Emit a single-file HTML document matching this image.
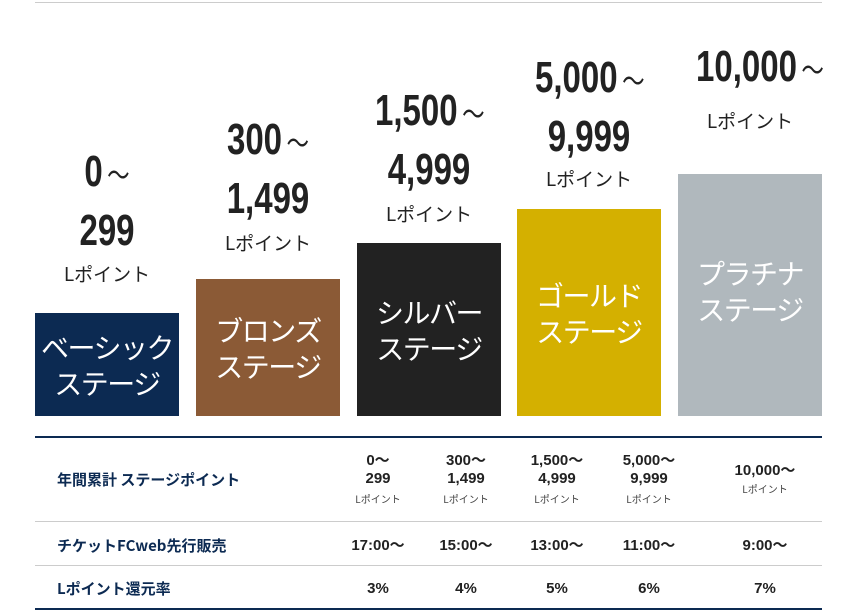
<!DOCTYPE html>
<html><head><meta charset="utf-8"><style>
body{margin:0;width:850px;height:611px;background:#fff;position:relative;overflow:hidden;font-family:"Liberation Sans","Noto Sans CJK JP",sans-serif}
.bar{position:absolute;width:144px;bottom:195px;color:#fff;font-size:28px;line-height:36px;text-align:center;font-family:"Noto Sans CJK JP",sans-serif;letter-spacing:-1.5px;white-space:nowrap;display:flex;align-items:center;justify-content:center}
.num{position:absolute;width:144px;text-align:center;font-family:"Liberation Sans Narrow","Liberation Sans",sans-serif;font-weight:bold;font-size:44px;line-height:54px;color:#222;transform:scaleX(0.75);transform-origin:center;white-space:nowrap}
.num span{font-weight:normal;font-size:30px;margin-left:6px}
.lp{position:absolute;width:144px;text-align:center;font-size:19px;color:#222;font-family:"Noto Sans CJK JP",sans-serif}
.row{position:absolute;left:57px;font-size:15px;font-weight:bold;color:#0c2a52;font-family:"Noto Sans CJK JP",sans-serif}
.c{position:absolute;width:90px;text-align:center;font-size:15px;font-weight:bold;color:#222;line-height:18px}
.c small{display:block;font-size:10px;font-weight:normal;color:#444;line-height:16px;margin-top:3px;font-family:"Noto Sans CJK JP",sans-serif}
.hl{position:absolute;left:35px;width:787px}
</style></head><body>
<div class="hl" style="top:2px;height:1px;background:#ccc"></div>

<div class="num" style="left:35px;top:145px">0<span>〜</span><br>299</div>
<div class="lp" style="left:35px;top:260px">Lポイント</div>
<div class="bar" style="left:35px;top:313px;background:#0c2a52"><div>ベーシック<br>ステージ</div></div>

<div class="num" style="left:196px;top:113px">300<span>〜</span><br>1,499</div>
<div class="lp" style="left:196px;top:229px">Lポイント</div>
<div class="bar" style="left:196px;top:279px;background:#8b5a36"><div>ブロンズ<br>ステージ</div></div>

<div class="num" style="left:357px;top:84px">1,500<span>〜</span><br>4,999</div>
<div class="lp" style="left:357px;top:200px">Lポイント</div>
<div class="bar" style="left:357px;top:243px;background:#222"><div>シルバー<br>ステージ</div></div>

<div class="num" style="left:517px;top:51px">5,000<span>〜</span><br>9,999</div>
<div class="lp" style="left:517px;top:165px">Lポイント</div>
<div class="bar" style="left:517px;top:209px;background:#d4b000"><div>ゴールド<br>ステージ</div></div>

<div class="num" style="left:678px;top:40px">10,000<span>〜</span></div>
<div class="lp" style="left:678px;top:107px">Lポイント</div>
<div class="bar" style="left:678px;top:174px;background:#b0b8bd"><div style="margin-bottom:8px">プラチナ<br>ステージ</div></div>

<div class="hl" style="top:436px;height:2px;background:#0c2a52"></div>
<div class="hl" style="top:521px;height:1px;background:#ccc"></div>
<div class="hl" style="top:565px;height:1px;background:#ccc"></div>
<div class="hl" style="top:608px;height:2px;background:#0c2a52"></div>

<div class="row" style="top:469px">年間累計 ステージポイント</div>
<div class="c" style="left:333px;top:452px">0〜<br>299<small>Lポイント</small></div>
<div class="c" style="left:421px;top:452px">300〜<br>1,499<small>Lポイント</small></div>
<div class="c" style="left:512px;top:452px">1,500〜<br>4,999<small>Lポイント</small></div>
<div class="c" style="left:604px;top:452px">5,000〜<br>9,999<small>Lポイント</small></div>
<div class="c" style="left:720px;top:462px">10,000〜<small style="margin-top:1px">Lポイント</small></div>

<div class="row" style="top:535px">チケットFCweb先行販売</div>
<div class="c" style="left:333px;top:537px">17:00〜</div>
<div class="c" style="left:421px;top:537px">15:00〜</div>
<div class="c" style="left:512px;top:537px">13:00〜</div>
<div class="c" style="left:604px;top:537px">11:00〜</div>
<div class="c" style="left:720px;top:537px">9:00〜</div>

<div class="row" style="top:578px">Lポイント還元率</div>
<div class="c" style="left:333px;top:580px">3%</div>
<div class="c" style="left:421px;top:580px">4%</div>
<div class="c" style="left:512px;top:580px">5%</div>
<div class="c" style="left:604px;top:580px">6%</div>
<div class="c" style="left:720px;top:580px">7%</div>
</body></html>
